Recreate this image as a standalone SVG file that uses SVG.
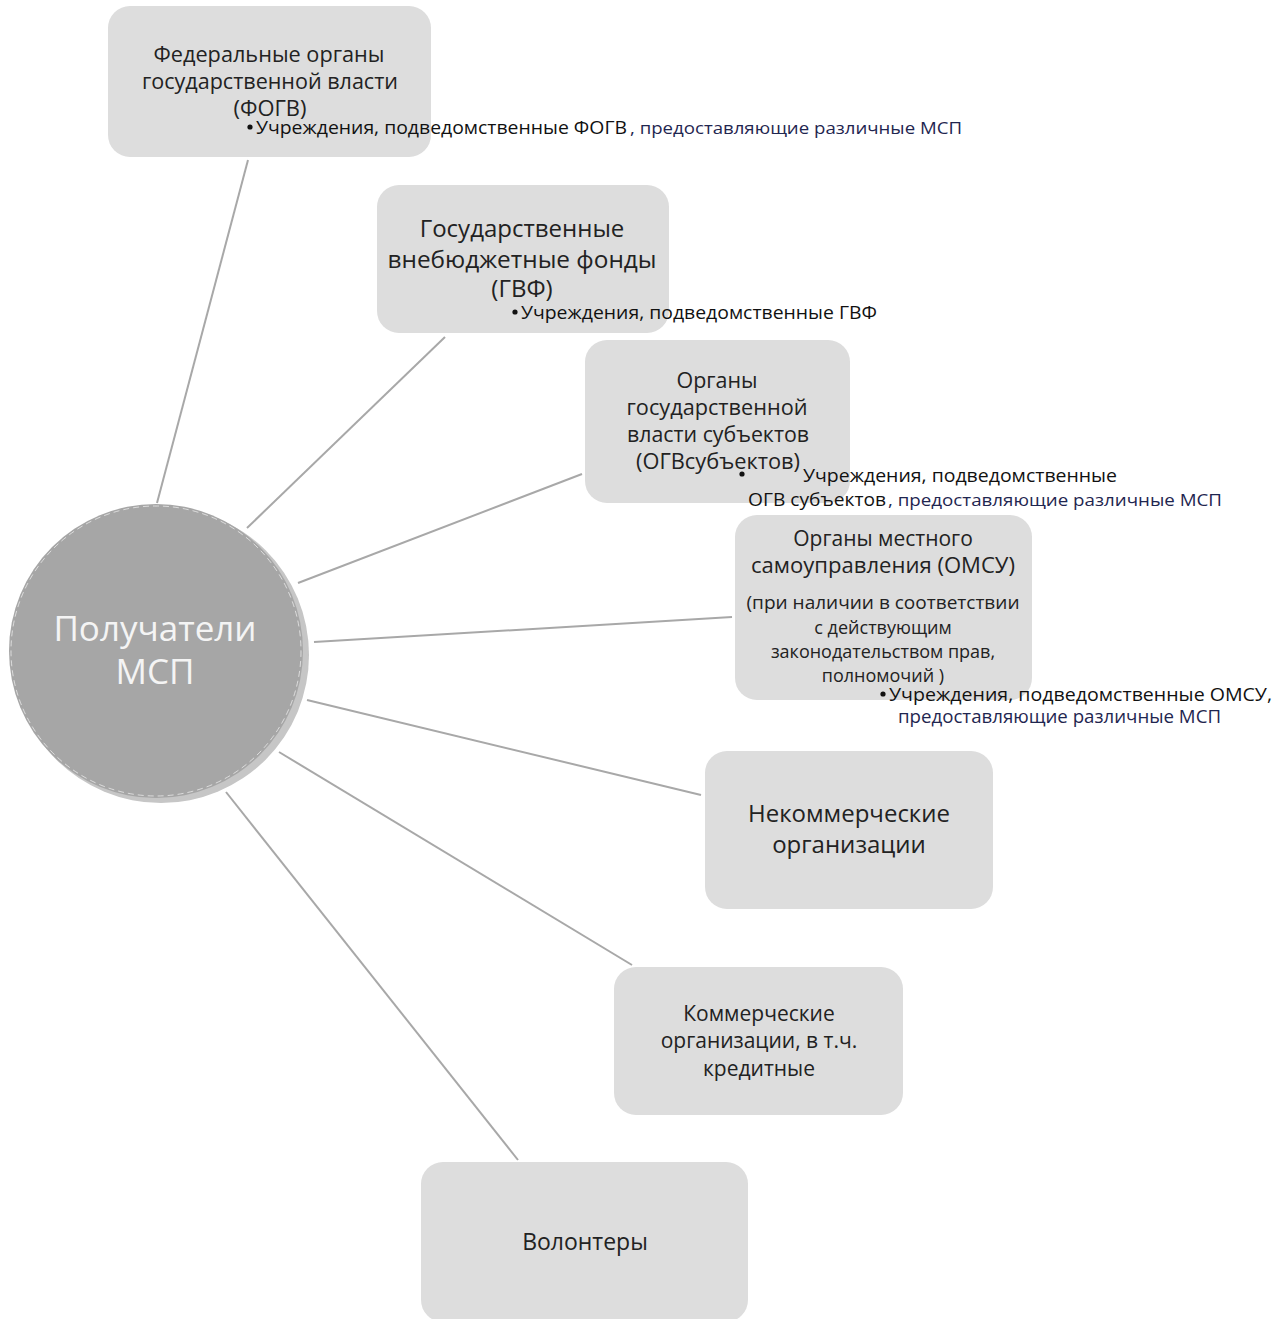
<svg xmlns="http://www.w3.org/2000/svg" width="1288" height="1319" viewBox="0 0 1288 1319">
<style>
.box{fill:#dddddd;}
.t{font-family:"Open Sans","Noto Sans","DejaVu Sans",sans-serif;fill:#222222;text-anchor:middle;}
.s{font-family:"Open Sans","Noto Sans","DejaVu Sans",sans-serif;fill:#111111;}
.n{fill:#1f2650;}
.conn line{stroke:#a8a8a8;stroke-width:2;}
.dot{fill:#111111;}
</style>
<rect width="1288" height="1319" fill="#ffffff"/>
<g id="connectors" class="conn">
<line x1="157" y1="503" x2="248" y2="160"/>
<line x1="247" y1="528" x2="445" y2="337"/>
<line x1="298" y1="583" x2="582" y2="474"/>
<line x1="314" y1="642" x2="732" y2="617"/>
<line x1="307" y1="700" x2="701" y2="795"/>
<line x1="279" y1="752" x2="632" y2="965"/>
<line x1="226" y1="792" x2="518" y2="1160"/>
</g>
<g id="center">
<circle cx="161" cy="655" r="148" fill="#c6c6c6"/>
<circle cx="156" cy="651" r="147" fill="#a6a6a6"/>
<circle cx="156" cy="651" r="145" fill="none" stroke="#ffffff" stroke-width="1" stroke-dasharray="6 4" opacity="0.6"/>
<text class="t" x="155" y="641" font-size="35" style="fill:#f4f4f4">Получатели</text>
<text class="t" x="155" y="684" font-size="35" style="fill:#f4f4f4">МСП</text>
</g>
<g id="fogv">
<rect class="box" x="108" y="6" width="323" height="151" rx="22"/>
<text class="t" x="269" y="62" font-size="21" textLength="231" lengthAdjust="spacingAndGlyphs">Федеральные органы</text>
<text class="t" x="270" y="89" font-size="21" textLength="256" lengthAdjust="spacingAndGlyphs">государственной власти</text>
<text class="t" x="270" y="116" font-size="21" textLength="73" lengthAdjust="spacingAndGlyphs">(ФОГВ)</text>
<circle class="dot" cx="250" cy="127" r="2.6"/>
<text class="s" x="256" y="134" font-size="19" textLength="371" lengthAdjust="spacingAndGlyphs">Учреждения, подведомственные ФОГВ</text>
<text class="s n" x="630" y="134" font-size="17" textLength="332" lengthAdjust="spacingAndGlyphs">, предоставляющие различные МСП</text>
</g>
<g id="gvf">
<rect class="box" x="377" y="185" width="292" height="148" rx="22"/>
<text class="t" x="522" y="237" font-size="24">Государственные</text>
<text class="t" x="522" y="268" font-size="24" textLength="269" lengthAdjust="spacingAndGlyphs">внебюджетные фонды</text>
<text class="t" x="522" y="297" font-size="24">(ГВФ)</text>
<circle class="dot" cx="515" cy="312" r="2.6"/>
<text class="s" x="521" y="319" font-size="18" textLength="356" lengthAdjust="spacingAndGlyphs">Учреждения, подведомственные ГВФ</text>
</g>
<g id="ogvs">
<rect class="box" x="585" y="340" width="265" height="163" rx="22"/>
<text class="t" x="717" y="388" font-size="21" textLength="81" lengthAdjust="spacingAndGlyphs">Органы</text>
<text class="t" x="717" y="415" font-size="21" textLength="181" lengthAdjust="spacingAndGlyphs">государственной</text>
<text class="t" x="718" y="442" font-size="21" textLength="182" lengthAdjust="spacingAndGlyphs">власти субъектов</text>
<text class="t" x="718" y="469" font-size="21" textLength="164" lengthAdjust="spacingAndGlyphs">(ОГВсубъектов)</text>
<circle class="dot" cx="742" cy="474" r="2.6"/>
<text class="s" x="803" y="482" font-size="19" textLength="314" lengthAdjust="spacingAndGlyphs">Учреждения, подведомственные</text>
<text class="s" x="748" y="506" font-size="19" textLength="138" lengthAdjust="spacingAndGlyphs">ОГВ субъектов</text>
<text class="s n" x="888" y="506" font-size="17" textLength="334" lengthAdjust="spacingAndGlyphs">, предоставляющие различные МСП</text>
</g>
<g id="omsu">
<rect class="box" x="735" y="515" width="297" height="185" rx="22"/>
<text class="t" x="883" y="546" font-size="21">Органы местного</text>
<text class="t" x="883" y="573" font-size="21" textLength="264" lengthAdjust="spacingAndGlyphs">самоуправления (ОМСУ)</text>
<text class="t" x="883" y="609" font-size="18" textLength="273" lengthAdjust="spacingAndGlyphs">(при наличии в соответствии</text>
<text class="t" x="883" y="634" font-size="18">с действующим</text>
<text class="t" x="883" y="658" font-size="18">законодательством прав,</text>
<text class="t" x="883" y="682" font-size="18">полномочий )</text>
<circle class="dot" cx="883" cy="694" r="2.6"/>
<text class="s" x="889" y="701" font-size="18" textLength="383" lengthAdjust="spacingAndGlyphs">Учреждения, подведомственные ОМСУ,</text>
<text class="s n" x="898" y="723" font-size="18" textLength="323" lengthAdjust="spacingAndGlyphs">предоставляющие различные МСП</text>
</g>
<g id="nko">
<rect class="box" x="705" y="751" width="288" height="158" rx="22"/>
<text class="t" x="849" y="822" font-size="24" textLength="202" lengthAdjust="spacingAndGlyphs">Некоммерческие</text>
<text class="t" x="849" y="853" font-size="24">организации</text>
</g>
<g id="ko">
<rect class="box" x="614" y="967" width="289" height="148" rx="22"/>
<text class="t" x="759" y="1021" font-size="21">Коммерческие</text>
<text class="t" x="759" y="1048" font-size="21">организации, в т.ч.</text>
<text class="t" x="759" y="1076" font-size="21">кредитные</text>
</g>
<g id="vol">
<rect class="box" x="421" y="1162" width="327" height="160" rx="22"/>
<text class="t" x="585" y="1250" font-size="23">Волонтеры</text>
</g>
</svg>
